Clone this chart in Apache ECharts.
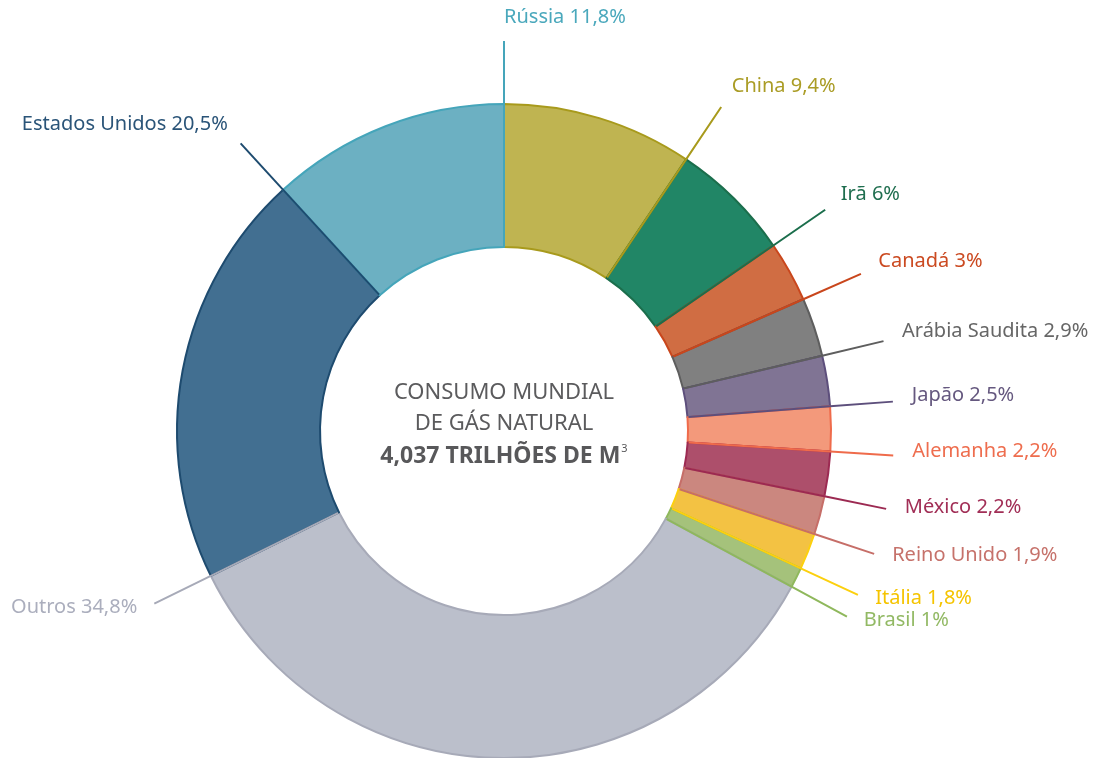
<!DOCTYPE html>
<html>
<head>
<meta charset="utf-8">
<script src="https://cdn.jsdelivr.net/npm/echarts@6/dist/echarts.min.js"></script>
<style>
  html, body { margin: 0; background: #fff; }
  #chart { width: 1099px; height: 758px; }
</style>
</head>
<body>
<div id="chart"></div>
<script>
// Slices go clockwise from 12 o'clock
const countries = ["China", "Irã", "Canadá", "Arábia Saudita", "Japão", "Alemanha", "México",
  "Reino Unido", "Itália", "Brasil", "Outros", "Estados Unidos", "Rússia"]
const shares = [9.4, 6, 3, 2.9, 2.5, 2.2, 2.2, 1.9, 1.8, 1, 34.8, 20.5, 11.8]
const centerLines = ["CONSUMO MUNDIAL", "DE GÁS NATURAL", "4,037 TRILHÕES DE M"]

const fillColors = ["#bfb451", "#218666", "#d06d43", "#808080", "#807494", "#f3997b", "#ad4f6b",
  "#cb877f", "#f3c243", "#a5c27b", "#bbbfcb", "#426f91", "#6cb0c2"]
const edgeColors = ["#a89a1c", "#1b6e4c", "#c9461c", "#5e5e5e", "#5d4f7c", "#ef6b4b", "#9c2a52",
  "#c66e68", "#fcd00e", "#8fb85c", "#a7aab8", "#1e4b6f", "#45a5ba"]
const labelColors = ["#aa9c25", "#1f6e4f", "#cb4a21", "#666666", "#65587f", "#ee6d4e", "#a12e56",
  "#c6726b", "#f5c400", "#92b964", "#abaebd", "#2a5478", "#4aa8bc"]

const cx = 504, cy = 431, rIn = 184, rOut = 327

// end angle of each slice (radians, clockwise from top) - labels hang off the slice's closing edge
const total = shares.reduce((a, b) => a + b, 0)
const endAngles = []
let acc = 0
shares.forEach(v => { acc += v; endAngles.push(acc / total * Math.PI * 2) })

const polar = (r, a) => [cx + r * Math.sin(a), cy - r * Math.cos(a)]

const base = {
  type: "pie",
  center: [cx, cy],
  radius: [rIn, rOut],
  startAngle: 90,
  clockwise: true,
  avoidLabelOverlap: false,
  silent: true,
  emphasis: { disabled: true }
}

const chart = echarts.init(document.getElementById("chart"))

chart.setOption({
  animation: false,
  series: [
    {
      ...base,
      z: 2,
      label: { show: false },
      labelLine: { show: false },
      data: countries.map((name, i) => ({
        name,
        value: shares[i],
        itemStyle: { color: fillColors[i], borderColor: edgeColors[i], borderWidth: 2 }
      }))
    },
    {
      // same slices, invisible, only carries labels so the leader lines sit on top of the ring
      ...base,
      z: 3,
      itemStyle: { color: "transparent", borderWidth: 0 },
      data: countries.map((name, i) => ({
        name,
        value: shares[i],
        label: { color: labelColors[i] },
        labelLine: { lineStyle: { color: edgeColors[i] } }
      })),
      label: {
        show: true,
        position: "outside",
        fontFamily: "Noto Sans",
        fontSize: 20,
        formatter: p => p.name + " " + String(p.value).replace(".", ",") + "%"
      },
      labelLine: { show: true, length: 60, length2: 0, lineStyle: { width: 2 } },
      labelLayout: p => {
        const a = endAngles[p.dataIndex]
        const t = polar(409, a)
        return {
          x: t[0],
          y: t[1] - 5,
          align: Math.sin(a) > -0.01 ? "left" : "right",
          verticalAlign: "middle",
          labelLinePoints: [polar(rIn + 1, a), polar(rOut, a), polar(390, a)]
        }
      }
    }
  ],
  graphic: [{
    type: "text",
    x: cx,
    y: 377.5,
    z: 10,
    style: {
      text: "{a|" + centerLines[0] + "}\n{a|" + centerLines[1] + "}\n{b|" + centerLines[2] + "}{s|3}",
      align: "center",
      verticalAlign: "top",
      rich: {
        a: { fontFamily: "Noto Sans", fontSize: 22, fill: "#5b5b5d", lineHeight: 31 },
        b: { fontFamily: "Noto Sans", fontSize: 23, fontWeight: "bold", fill: "#58585a", lineHeight: 33 },
        s: { fontFamily: "Noto Sans", fontSize: 11, fill: "#58585a", lineHeight: 21, verticalAlign: "top", padding: [4, 0, 0, 1] }
      }
    }
  }]
})
</script>
</body>
</html>
